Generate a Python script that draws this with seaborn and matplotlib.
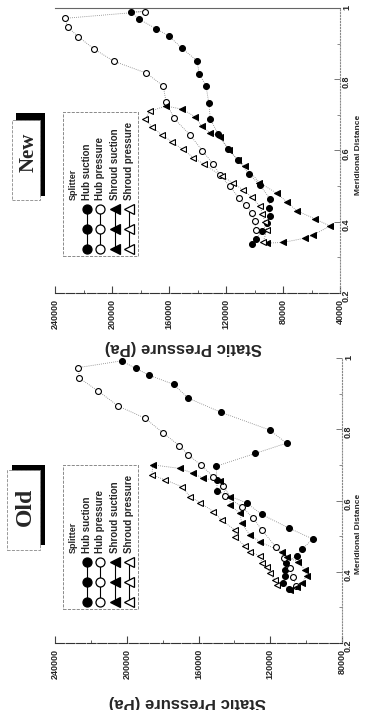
import numpy as np
import pandas as pd
import matplotlib
matplotlib.use("Agg")
import matplotlib.pyplot as plt
import seaborn as sns
from matplotlib.lines import Line2D
from matplotlib.patches import Rectangle
from matplotlib.ticker import MultipleLocator, FuncFormatter

new_hub_suction_d = [0.337, 0.351, 0.374, 0.396, 0.416, 0.439, 0.464, 0.503, 0.534, 0.573, 0.604,
                     0.645, 0.688, 0.734, 0.781, 0.815, 0.852, 0.887, 0.922, 0.942, 0.968, 0.990]
new_hub_suction_p = [102000, 99000, 94700, 91000, 89100, 89600, 89100, 96100, 103900, 111600, 118600,
                     125400, 131000, 132100, 134000, 138700, 140400, 150900, 160200, 169100, 180800, 186700]
new_hub_pressure_d = [0.377, 0.401, 0.424, 0.446, 0.468, 0.499, 0.530, 0.561, 0.599, 0.644, 0.690,
                      0.737, 0.781, 0.817, 0.851, 0.885, 0.920, 0.947, 0.971, 0.990]
new_hub_pressure_p = [98900, 100000, 101800, 106000, 111200, 117200, 123900, 128800, 136500, 145300, 156500,
                      162100, 164000, 175800, 198900, 212600, 223900, 231200, 233000, 176800]
new_shroud_suction_d = [0.340, 0.342, 0.354, 0.363, 0.388, 0.408, 0.431, 0.456, 0.480, 0.510, 0.557,
                        0.572, 0.601, 0.638, 0.650, 0.669, 0.695, 0.716, 0.725]
new_shroud_suction_p = [91400, 79800, 64600, 58700, 47000, 57500, 70400, 77400, 84400, 96600, 106700,
                        111400, 117700, 124200, 131200, 137100, 141800, 150700, 162300]
new_shroud_pressure_d = [0.343, 0.377, 0.399, 0.422, 0.443, 0.469, 0.489, 0.509, 0.528, 0.561, 0.580,
                         0.603, 0.625, 0.644, 0.666, 0.688, 0.710]
new_shroud_pressure_p = [94000, 91200, 92600, 94500, 96100, 102000, 107900, 115100, 122800, 135400, 142900,
                         150400, 158100, 165100, 171900, 176800, 173300]

old_hub_suction_d = [0.352, 0.369, 0.388, 0.405, 0.424, 0.445, 0.464, 0.492, 0.522, 0.561, 0.593, 0.627,
                     0.658, 0.696, 0.732, 0.761, 0.798, 0.848, 0.887, 0.926, 0.952, 0.971, 0.992]
old_hub_suction_p = [109800, 112900, 111800, 111800, 111200, 105300, 102100, 96300, 109400, 124800, 133100, 149700,
                     149700, 150200, 128500, 110900, 120400, 147700, 165600, 173900, 187600, 195100, 202900]
old_hub_pressure_d = [0.360, 0.384, 0.411, 0.439, 0.469, 0.517, 0.551, 0.583, 0.613, 0.642, 0.667, 0.700,
                      0.728, 0.754, 0.789, 0.831, 0.865, 0.907, 0.944, 0.973]
old_hub_pressure_p = [105600, 107300, 109000, 112300, 116800, 124600, 129600, 135900, 145200, 146200, 151700, 158800,
                      165700, 170700, 179600, 189800, 204700, 215900, 226500, 227000]
old_shroud_suction_d = [0.349, 0.358, 0.368, 0.388, 0.405, 0.428, 0.441, 0.456, 0.484, 0.503, 0.536, 0.564,
                        0.587, 0.611, 0.655, 0.662, 0.676, 0.690, 0.700]
old_shroud_suction_p = [109000, 105300, 102500, 99700, 100600, 104400, 110800, 113600, 125700, 131300, 135900, 136900,
                        142400, 142400, 148000, 157300, 162900, 170300, 185400]
old_shroud_pressure_d = [0.363, 0.377, 0.396, 0.413, 0.424, 0.444, 0.456, 0.472, 0.498, 0.517, 0.545, 0.569,
                         0.594, 0.611, 0.639, 0.658, 0.672]
old_shroud_pressure_p = [116200, 117400, 120100, 121800, 124600, 125700, 131300, 134100, 139700, 139700, 147100, 151700,
                         159200, 164700, 169400, 178700, 186000]

series_names = ["Hub suction", "Hub pressure", "Shroud suction", "Shroud pressure"]
panel_titles = ["New", "Old"]

def frame(d, p, name):
    return pd.DataFrame({"d": d, "p": p, "series": name})

data = {
    "New": {
        "Hub suction": frame(new_hub_suction_d, new_hub_suction_p, "Hub suction"),
        "Hub pressure": frame(new_hub_pressure_d, new_hub_pressure_p, "Hub pressure"),
        "Shroud suction": frame(new_shroud_suction_d, new_shroud_suction_p, "Shroud suction"),
        "Shroud pressure": frame(new_shroud_pressure_d, new_shroud_pressure_p, "Shroud pressure"),
    },
    "Old": {
        "Hub suction": frame(old_hub_suction_d, old_hub_suction_p, "Hub suction"),
        "Hub pressure": frame(old_hub_pressure_d, old_hub_pressure_p, "Hub pressure"),
        "Shroud suction": frame(old_shroud_suction_d, old_shroud_suction_p, "Shroud suction"),
        "Shroud pressure": frame(old_shroud_pressure_d, old_shroud_pressure_p, "Shroud pressure"),
    },
}

# marker look per series (figure is drawn already turned on its side)
styles = {
    "Hub suction": dict(marker="o", fc="black"),
    "Hub pressure": dict(marker="o", fc="white"),
    "Shroud suction": dict(marker="<", fc="black"),
    "Shroud pressure": dict(marker="<", fc="white"),
}

sns.set_style("white")
plt.rcParams["font.family"] = ["Liberation Sans", "DejaVu Sans"]

W, H = 366, 710
fig = plt.figure(figsize=(W / 100, H / 100), dpi=100)

def fx(x):
    return x / W

def fy(y):
    return 1 - y / H

# layout in pixels (left, top, right, bottom)
layout = {
    "New": dict(rect=(55, 8, 340, 293), plim=(240000, 40000), top_spine=True,
                xlab=(0.449, -0.19), ylab=(1.066, 0.484), leg_top=112,
                box=(12, 120, 40, 200), shadow=(16, 113, 45, 196), tpos=(29, 152), tsize=15),
    "Old": dict(rect=(55, 358, 342, 643), plim=(240000, 80000), top_spine=False,
                xlab=(0.46, -0.21), ylab=(1.057, 0.382), leg_top=465,
                box=(7, 470, 40, 550), shadow=(12, 465, 45, 545), tpos=(25, 507), tsize=17),
}

for name in panel_titles:
    lay = layout[name]
    l, t, r, b = lay["rect"]
    ax = fig.add_axes([fx(l), fy(b), (r - l) / W, (b - t) / H])
    panel = data[name]

    # dotted loops: suction side LE->TE then pressure side TE->LE
    for blade in ["Hub", "Shroud"]:
        loop = pd.concat([panel[f"{blade} suction"], panel[f"{blade} pressure"].iloc[::-1]],
                         ignore_index=True)
        sns.lineplot(data=loop, x="p", y="d", sort=False, estimator=None, ax=ax,
                     color="#808080", lw=0.6, linestyle=(0, (1, 1.5)), legend=False)

    for s in series_names:
        st = styles[s]
        sns.scatterplot(data=panel[s], x="p", y="d", marker=st["marker"], s=18,
                        color=st["fc"], edgecolor="black", linewidth=0.8, ax=ax,
                        legend=False, zorder=3)

    ax.set_xlim(*lay["plim"])
    ax.set_ylim(0.2, 1.0)
    ax.xaxis.set_major_locator(MultipleLocator(40000))
    ax.xaxis.set_minor_locator(MultipleLocator(20000))
    ax.xaxis.set_major_formatter(FuncFormatter(lambda v, pos: f"{int(round(v))}"))
    ax.yaxis.set_major_locator(MultipleLocator(0.2))
    ax.yaxis.set_minor_locator(MultipleLocator(0.1))
    ax.yaxis.set_major_formatter(FuncFormatter(lambda v, pos: f"{v:g}"))
    ax.yaxis.tick_right()
    ax.yaxis.set_label_position("right")

    ax.tick_params(axis="x", which="both", direction="in", labelrotation=90, labelsize=6.5,
                   pad=4, color="#444", top=False, bottom=True)
    ax.tick_params(axis="x", which="major", length=5, width=0.8)
    ax.tick_params(axis="x", which="minor", length=2.5, width=0.6)
    ax.tick_params(axis="y", which="both", direction="in", labelrotation=90, labelsize=6.5,
                   pad=1.5, color="#777", left=False, right=True)
    ax.tick_params(axis="y", which="major", length=4, width=0.7)
    ax.tick_params(axis="y", which="minor", length=2, width=0.6)
    for lab in ax.get_xticklabels() + ax.get_yticklabels():
        lab.set_fontweight("bold")

    ax.spines["left"].set_visible(False)
    ax.spines["top"].set_visible(lay["top_spine"])
    ax.spines["top"].set_color("#666")
    ax.spines["top"].set_linewidth(0.8)
    ax.spines["bottom"].set_color("#333")
    ax.spines["bottom"].set_linewidth(0.8)
    ax.spines["bottom"].set_linestyle((0, (8, 1.5)))
    ax.spines["right"].set_color("#888")
    ax.spines["right"].set_linewidth(0.8)
    ax.spines["right"].set_linestyle(":")

    ax.set_xlabel("Static Pressure (Pa)", rotation=180, fontsize=12, fontweight="bold")
    ax.xaxis.set_label_coords(*lay["xlab"])
    ax.xaxis.label.set_va("center")
    ax.set_ylabel("Meridional Distance", rotation=90, fontsize=6, fontweight="bold")
    ax.yaxis.set_label_coords(*lay["ylab"])
    ax.yaxis.label.set_va("center")

    # ---- legend, drawn turned on its side
    top = lay["leg_top"]
    fig.add_artist(Rectangle((fx(63), fy(top + 144)), 75 / W, 144 / H, transform=fig.transFigure,
                             facecolor="white", edgecolor="#777", lw=0.6, linestyle="--", zorder=4))
    fig.text(fx(73), fy(top + 88), "Splitter", rotation=90, ha="center", va="bottom",
             fontsize=6.5, fontweight="bold", zorder=5)
    for s, cx in zip(series_names, [87, 100, 115, 129]):
        st = styles[s]
        ys = [fy(top + 97), fy(top + 117), fy(top + 137)]
        fig.add_artist(Line2D([fx(cx)] * 3, ys, transform=fig.transFigure, color="black", lw=0.8,
                              marker=st["marker"], ms=6.5, mfc=st["fc"], mec="black", mew=0.9, zorder=5))
        fig.text(fx(cx), fy(top + 88), s, rotation=90, ha="center", va="bottom",
                 fontsize=7, fontweight="bold", zorder=5)

    # ---- panel tag with shadow
    sl, stp, sr, sb = lay["shadow"]
    fig.add_artist(Rectangle((fx(sl), fy(sb)), (sr - sl) / W, (sb - stp) / H, transform=fig.transFigure,
                             facecolor="black", edgecolor="black", lw=0, zorder=4))
    bl, bt, br, bb = lay["box"]
    fig.add_artist(Rectangle((fx(bl), fy(bb)), (br - bl) / W, (bb - bt) / H, transform=fig.transFigure,
                             facecolor="white", edgecolor="#888", lw=0.6, linestyle="--", zorder=5))
    fig.text(fx(lay["tpos"][0]), fy(lay["tpos"][1]), name, rotation=90, ha="center", va="center",
             fontsize=lay["tsize"], fontweight="bold", family=["Liberation Serif", "DejaVu Serif"], zorder=6)

fig.savefig("out.png", dpi=100)
